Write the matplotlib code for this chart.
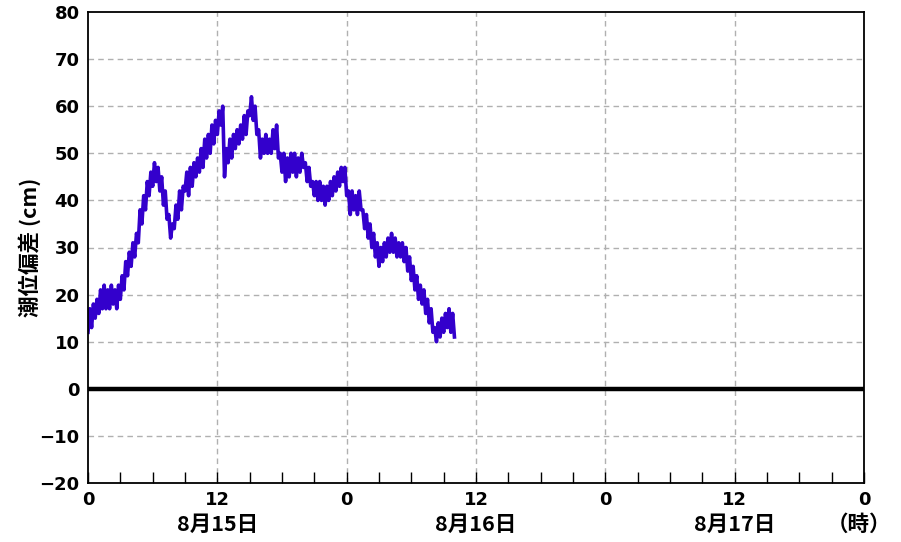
import numpy as np
import matplotlib
matplotlib.use("Agg")
import matplotlib.pyplot as plt

plt.rcParams['font.family'] = ['DejaVu Sans', 'Noto Sans CJK JP']

# tide anomaly (cm), 10-minute steps from 8/15 0:00
anomaly = [
    12, 17, 13, 18, 15, 19,
    16, 21, 17, 22, 17, 21,
    17, 22, 18, 21, 17, 22,
    19, 24, 21, 27, 24, 29,
    26, 31, 28, 33, 31, 38,
    35, 41, 38, 44, 41, 46,
    43, 48, 44, 47, 42, 45,
    39, 42, 36, 37, 32, 35,
    34, 39, 36, 42, 38, 43,
    42, 46, 41, 47, 43, 48,
    45, 49, 46, 51, 47, 53,
    49, 54, 50, 56, 52, 57,
    54, 59, 56, 60, 45, 51,
    48, 53, 49, 54, 51, 55,
    52, 56, 53, 58, 54, 59,
    58, 62, 57, 60, 54, 55,
    49, 53, 50, 54, 50, 53,
    50, 55, 51, 56, 49, 50,
    46, 50, 44, 49, 45, 50,
    46, 50, 45, 49, 46, 50,
    47, 48, 44, 47, 43, 44,
    41, 44, 40, 44, 40, 43,
    39, 43, 40, 44, 41, 45,
    42, 46, 43, 47, 44, 47,
    41, 42, 37, 42, 38, 41,
    37, 42, 38, 38, 34, 37,
    32, 35, 30, 33, 28, 31,
    26, 30, 27, 31, 28, 32,
    29, 33, 29, 32, 28, 31,
    28, 31, 27, 30, 25, 28,
    23, 26, 21, 24, 19, 22,
    18, 21, 16, 19, 14, 17,
    12, 13, 10, 14, 11, 15,
    12, 16, 13, 17, 12, 16,
    11,
]
hours = np.arange(len(anomaly)) / 6.0

hour_ticks = [0, 12, 24, 36, 48, 60, 72]
hour_labels = ['0', '12', '0', '12', '0', '12', '0']
date_pos = [12, 36, 60, 71.5]
date_labels = ['8月15日', '8月16日', '8月17日', '（時）']

fig = plt.figure(figsize=(9.01, 5.42), dpi=100)
ax = fig.add_axes([88/901, 1-483/542, (864-88)/901, (483-12)/542])

ax.plot(hours, anomaly, color='#3300cc', lw=2.6)
ax.axhline(0, color='black', lw=3.2, zorder=3)

ax.set_xlim(0, 72)
ax.set_ylim(-20, 80)
ax.set_yticks(range(-20, 81, 10))
ax.set_yticklabels([str(v).replace('-', '−') for v in range(-20, 81, 10)],
                   fontsize=13, fontweight='bold')
ax.set_xticks(hour_ticks)
ax.set_xticklabels(hour_labels, fontsize=13, fontweight='bold')
ax.set_xticks(np.arange(0, 73, 3), minor=True)
ax.tick_params(axis='x', which='both', direction='in', length=8, width=1, pad=6)
ax.tick_params(axis='y', length=0, pad=6)

for v in range(-10, 80, 10):
    if v != 0:
        ax.axhline(v, color='#b0b0b0', lw=1, ls=(0, (4, 3)), zorder=0)
for t in [12, 24, 36, 48, 60]:
    ax.axvline(t, color='#b0b0b0', lw=1, ls=(0, (4, 3)), zorder=0)

for s in ax.spines.values():
    s.set_linewidth(1.3)

for x, lab in zip(date_pos, date_labels):
    ax.text(x, -0.088, lab, transform=ax.get_xaxis_transform(), ha='center',
            va='center', fontsize=15.5, fontweight='bold',
            family=['Noto Sans CJK JP', 'DejaVu Sans'])

fig.text(30/901, 1-247/542, '潮位偏差 (cm)', rotation=90, ha='center', va='center',
         fontsize=15.5, fontweight='bold', family=['Noto Sans CJK JP', 'DejaVu Sans'])

fig.savefig('out.png', dpi=100)
